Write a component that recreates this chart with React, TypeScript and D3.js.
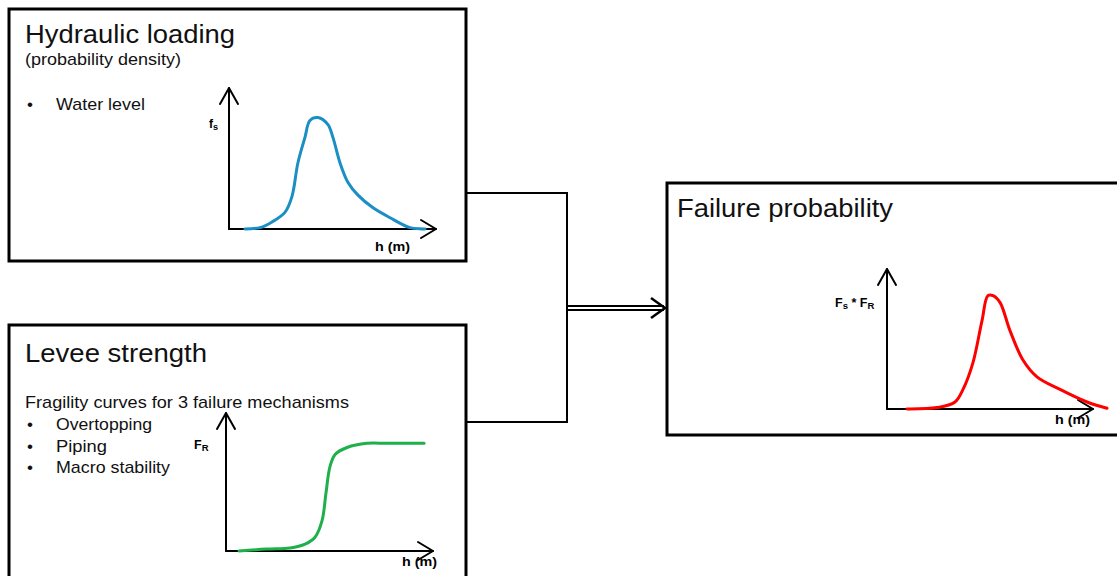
import React from 'react';
import * as d3 from 'd3';

// water level density f_s(h)
const loadH = [0.77, 1.5, 2.08, 2.71, 3.04, 3.33, 3.67, 3.91, 4.3, 4.78, 5.02, 5.36, 5.75, 6.23, 6.96, 7.78, 8.74, 9.47];
const loadF = [0, 0.01, 0.05, 0.12, 0.23, 0.47, 0.65, 0.77, 0.79, 0.74, 0.65, 0.47, 0.33, 0.24, 0.15, 0.08, 0.01, 0];

// fragility curve F_R(h)
const strengthH = [0.63, 1.98, 3.09, 3.82, 4.3, 4.64, 4.83, 5.02, 5.27, 5.85, 6.81, 7.78, 9.57];
const strengthF = [0, 0.014, 0.022, 0.05, 0.1, 0.22, 0.42, 0.61, 0.7, 0.75, 0.78, 0.78, 0.78];

// product F_s * F_R
const failH = [0.97, 2.43, 3.3, 3.69, 4.17, 4.61, 4.9, 5.15, 5.49, 5.97, 6.6, 7.28, 8.4, 9.71, 10.68];
const failF = [0, 0.01, 0.05, 0.14, 0.33, 0.63, 0.81, 0.81, 0.76, 0.56, 0.35, 0.23, 0.14, 0.05, 0.005];

const mechanisms = ['Overtopping', 'Piping', 'Macro stability'];
const mechanismWidths = [96, 51, 114];

const FONT = '"Liberation Sans", Arial, sans-serif';

interface MiniProps {
  x0: number;
  y0: number;
  w: number;
  h: number;
  hs: number[];
  vs: number[];
  color: string;
}

const MiniChart: React.FC<MiniProps> = ({ x0, y0, w, h, hs, vs, color }) => {
  const x = d3.scaleLinear().domain([0, 10]).range([x0, x0 + w]);
  const y = d3.scaleLinear().domain([0, 1]).range([y0, y0 - h]);
  const pts: [number, number][] = hs.map((v, i) => [v, vs[i]]);
  const line = d3
    .line<[number, number]>()
    .x(d => x(d[0]))
    .y(d => y(d[1]))
    .curve(d3.curveCatmullRom.alpha(0.5));
  const xt = x(10);
  const yt = y(1);
  return (
    <g>
      <g stroke="#000" strokeWidth={2} fill="none" strokeLinecap="round" strokeLinejoin="round">
        <line x1={x0} y1={y0} x2={xt} y2={y0} />
        <line x1={x0} y1={y0} x2={x0} y2={yt} />
        <polyline points={`${xt - 15},${y0 - 9} ${xt},${y0} ${xt - 15},${y0 + 9}`} />
        <polyline points={`${x0 - 9},${yt + 16} ${x0},${yt} ${x0 + 9},${yt + 16}`} />
      </g>
      <path d={line(pts) ?? ''} fill="none" stroke={color} strokeWidth={3} strokeLinecap="round" />
    </g>
  );
};

const App: React.FC = () => {
  const fit = 'spacingAndGlyphs';
  return (
    <svg
      width={1117}
      height={576}
      style={{ position: 'absolute', left: 0, top: 0, background: '#fff' }}
      fontFamily={FONT}
    >
      {/* connectors */}
      <g stroke="#000" strokeWidth={2} fill="none">
        <polyline points="466,193 567,193 567,422 466,422" />
        <line x1={567} y1={306} x2={664} y2={306} />
        <line x1={567} y1={310} x2={664} y2={310} />
        <polyline points="651,298 665,308 651,318" strokeWidth={2.5} />
      </g>

      {/* boxes */}
      <g stroke="#000" strokeWidth={3} fill="none">
        <rect x={9} y={9} width={457} height={252} />
        <rect x={9} y={325} width={457} height={260} />
        <rect x={667} y={183} width={460} height={252} />
      </g>

      {/* Hydraulic loading */}
      <text x={25} y={43} fontSize={25.5} fill="#111" textLength={210} lengthAdjust={fit}>Hydraulic loading</text>
      <text x={25} y={65} fontSize={17} fill="#111" textLength={156} lengthAdjust={fit}>(probability density)</text>
      <text x={27} y={110} fontSize={17} fill="#111">•</text>
      <text x={56} y={110} fontSize={17} fill="#111" textLength={89} lengthAdjust={fit}>Water level</text>
      <MiniChart x0={229} y0={229} w={207} h={141} hs={loadH} vs={loadF} color="#1b8fc4" />
      <text x={209} y={128} fontSize={12} fontWeight="bold">
        f<tspan fontSize={9} dy={2}>s</tspan>
      </text>
      <text x={375} y={251} fontSize={13} fontWeight="bold" textLength={35} lengthAdjust={fit}>h (m)</text>

      {/* Levee strength */}
      <text x={25} y={362} fontSize={25.5} fill="#111" textLength={182} lengthAdjust={fit}>Levee strength</text>
      <text x={25} y={408} fontSize={17} fill="#111" textLength={324} lengthAdjust={fit}>
        Fragility curves for 3 failure mechanisms
      </text>
      {mechanisms.map((m, i) => (
        <g key={m}>
          <text x={27} y={430 + i * 21.5} fontSize={17} fill="#111">•</text>
          <text x={56} y={430 + i * 21.5} fontSize={17} fill="#111" textLength={mechanismWidths[i]} lengthAdjust={fit}>
            {m}
          </text>
        </g>
      ))}
      <MiniChart x0={226} y0={551} w={207} h={138} hs={strengthH} vs={strengthF} color="#1db04b" />
      <text x={194} y={449} fontSize={12.5} fontWeight="bold">
        F<tspan fontSize={9.5} dy={2}>R</tspan>
      </text>
      <text x={402} y={566} fontSize={13} fontWeight="bold" textLength={35} lengthAdjust={fit}>h (m)</text>

      {/* Failure probability */}
      <text x={677} y={217} fontSize={25.5} fill="#111" textLength={216} lengthAdjust={fit}>Failure probability</text>
      <MiniChart x0={887} y0={409} w={206} h={140} hs={failH} vs={failF} color="#ff0000" />
      <text x={835} y={307} fontSize={12.5} fontWeight="bold">
        F<tspan fontSize={9.5} dy={2}>s</tspan>
        <tspan fontSize={12.5} dy={-2}> * F</tspan>
        <tspan fontSize={9.5} dy={2}>R</tspan>
      </text>
      <text x={1055} y={424} fontSize={13} fontWeight="bold" textLength={35} lengthAdjust={fit}>h (m)</text>
    </svg>
  );
};

export default App;
